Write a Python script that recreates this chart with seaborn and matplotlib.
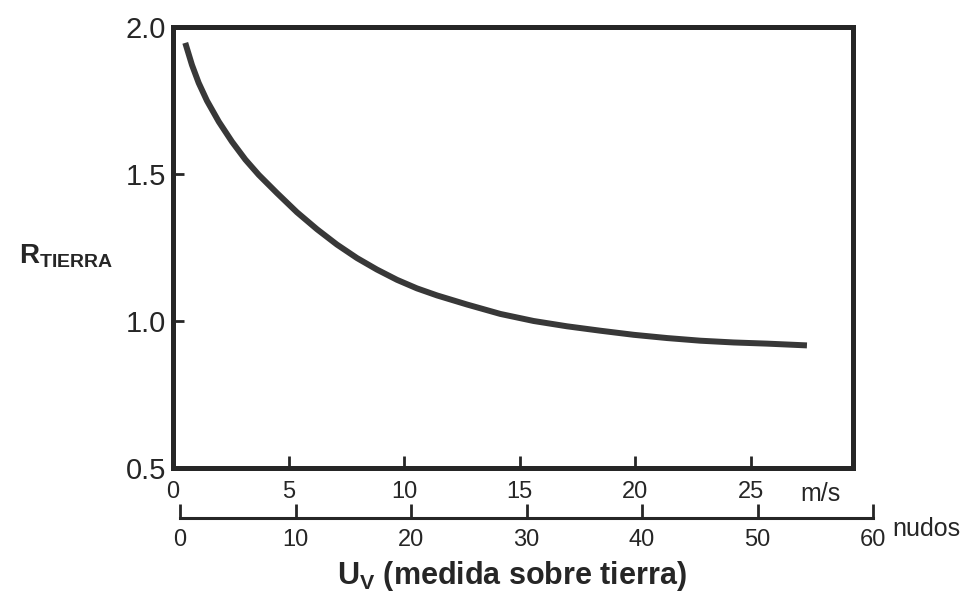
import numpy as np
import pandas as pd
import matplotlib
matplotlib.use("Agg")
import matplotlib.pyplot as plt
import seaborn as sns

# ---- data ----
uv_ms = [0.53, 0.82, 1.11, 1.47, 1.98, 2.55, 3.13, 3.71, 4.5, 5.36, 6.23, 7.09,
         7.96, 8.82, 9.69, 10.55, 11.42, 12.72, 14.16, 15.6, 17.04, 18.48, 19.93,
         21.37, 22.81, 24.25, 25.7, 27.42]
r_tierra = [1.946, 1.871, 1.810, 1.749, 1.678, 1.610, 1.549, 1.497, 1.435, 1.370, 1.312, 1.260,
            1.214, 1.175, 1.140, 1.111, 1.087, 1.056, 1.024, 1.000, 0.982, 0.967, 0.953,
            0.942, 0.933, 0.927, 0.923, 0.917]
ms_ticks = [0, 5, 10, 15, 20, 25]
knot_ticks = [0, 10, 20, 30, 40, 50, 60]
r_ticks = [0.5, 1.0, 1.5, 2.0]
r_tick_labels = ["0.5", "1.0", "1.5", "2.0"]

df = pd.DataFrame({"uv": uv_ms, "r": r_tierra})

sns.set_theme(style="white")
plt.rcParams["font.family"] = ["Liberation Sans", "DejaVu Sans"]
plt.rcParams["mathtext.fontset"] = "custom"
plt.rcParams["mathtext.rm"] = "Liberation Sans"
plt.rcParams["mathtext.bf"] = "Liberation Sans:bold"
plt.rcParams["mathtext.it"] = "Liberation Sans:italic"

ink = "#262626"
W, H = 968, 594
fig = plt.figure(figsize=(W / 100, H / 100), dpi=100)
fig.patch.set_facecolor("white")

L, R, T, B = 173, 853, 27, 468
ax = fig.add_axes([L / W, 1 - B / H, (R - L) / W, (B - T) / H])
sns.lineplot(data=df, x="uv", y="r", ax=ax, color="#383838", linewidth=4.3,
             solid_capstyle="butt", solid_joinstyle="round")

ax.set_xlim(0, (R - L) / 23.12)
ax.set_ylim(0.5, 2.0)
ax.set_xticks(ms_ticks)
ax.set_xticklabels([str(t) for t in ms_ticks])
ax.set_yticks(r_ticks)
ax.set_yticklabels(r_tick_labels)
for s in ax.spines.values():
    s.set_visible(True)
    s.set_linewidth(3.6)
    s.set_color(ink)
ax.tick_params(axis="x", bottom=True, direction="in", length=9, width=2, color=ink,
               labelsize=17, pad=9, labelcolor=ink)
ax.tick_params(axis="y", left=True, direction="in", length=8, width=2, color=ink,
               labelsize=21, pad=5, labelcolor=ink)
ax.set_xlabel("")
ax.set_ylabel(r"$\mathbf{R}_{\mathbf{TIERRA}}$", rotation=0, fontsize=20,
              color=ink, ha="center", va="center")
ax.yaxis.set_label_coords((66 - L) / (R - L), (B - 256) / (B - T))
ax.grid(False)

fig.text(800 / W, 1 - 494 / H, "m/s", fontsize=18, color=ink, ha="left", va="center")

# secondary scale in knots
kx0, kx1, ky = 180, 873, 518
ax2 = fig.add_axes([kx0 / W, 1 - ky / H, (kx1 - kx0) / W, 0.001])
ax2.set_xlim(0, 60)
ax2.set_yticks([])
ax2.patch.set_visible(False)
for name, s in ax2.spines.items():
    s.set_visible(name == "bottom")
ax2.spines["bottom"].set_linewidth(2.2)
ax2.spines["bottom"].set_color(ink)
ax2.set_xticks(knot_ticks)
ax2.set_xticklabels([str(t) for t in knot_ticks])
ax2.tick_params(axis="x", bottom=True, direction="in", length=10, width=2, color=ink,
                labelsize=17, pad=8, labelcolor=ink)
fig.text(892 / W, 1 - 529 / H, "nudos", fontsize=18, color=ink, ha="left", va="center")

fig.text(512 / W, 1 - 576 / H, r"$\mathbf{U}_{\mathbf{V}}$ (medida sobre tierra)",
         fontsize=22, fontweight="bold", color=ink, ha="center", va="center")

fig.savefig("out.png", dpi=100, facecolor="white")
